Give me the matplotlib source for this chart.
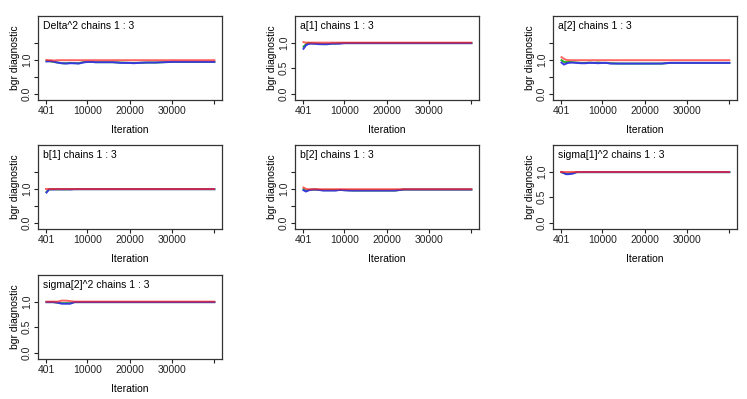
import matplotlib
matplotlib.use('Agg')
import matplotlib.pyplot as plt

plt.rcParams['font.family'] = ['Liberation Sans', 'DejaVu Sans']
plt.rcParams['font.size'] = 7.5

iters = [401, 1000, 1500, 2000, 3000, 4000, 5000, 6000, 7000, 8000, 9000, 10000,
         11000, 12000, 14000, 16000, 18000, 20000, 21000, 22000, 24000, 26000,
         28000, 30000, 35000, 40000]

xtick_vals = [401, 10000, 20000, 30000, 40000]
xtick_labels = ['401', '10000', '20000', '30000', '']

titles = ['Delta^2', 'a[1]', 'a[2]', 'b[1]', 'b[2]', 'sigma[1]^2', 'sigma[2]^2']

# green = pooled width, blue = within width, red = ratio
delta_green = [0.98, 0.97, 0.96, 0.95, 0.93, 0.91, 0.91, 0.92, 0.91, 0.91, 0.94, 0.95,
               0.95, 0.94, 0.94, 0.94, 0.93, 0.92, 0.92, 0.92, 0.93, 0.93, 0.94, 0.95, 0.95, 0.95]
delta_blue = [0.96, 0.97, 0.97, 0.96, 0.93, 0.91, 0.90, 0.91, 0.91, 0.90, 0.93, 0.95,
              0.95, 0.94, 0.94, 0.94, 0.92, 0.92, 0.91, 0.92, 0.93, 0.93, 0.94, 0.95, 0.95, 0.95]
delta_red = [1.01, 1.0, 1.0, 0.99, 1.0, 1.0, 1.0, 1.0, 1.0, 1.0, 1.0, 1.0,
             1.0, 1.0, 1.0, 1.0, 1.0, 1.0, 1.0, 1.0, 1.0, 1.0, 1.0, 1.0, 1.0, 1.0]

a1_green = [0.92, 0.97, 0.99, 0.99, 0.98, 0.98, 0.97, 0.97, 0.98, 0.98, 0.99, 0.99,
            0.99, 0.99, 0.99, 0.99, 0.99, 0.99, 0.99, 0.99, 0.99, 0.99, 0.99, 0.99, 0.99, 0.99]
a1_blue = [0.88, 0.95, 0.97, 0.98, 0.98, 0.97, 0.97, 0.97, 0.98, 0.98, 0.98, 0.99,
           0.99, 0.99, 0.99, 0.99, 0.99, 0.99, 0.99, 0.99, 0.99, 0.99, 0.99, 0.99, 0.99, 0.99]
a1_red = [1.01, 1.0, 1.0, 1.0, 1.0, 1.0, 1.0, 1.0, 1.0, 1.0, 1.0, 1.0,
          1.0, 1.0, 1.0, 1.0, 1.0, 1.0, 1.0, 1.0, 1.0, 1.0, 1.0, 1.0, 1.0, 1.0]

a2_green = [1.0, 0.95, 0.94, 0.95, 0.94, 0.93, 0.92, 0.92, 0.93, 0.92, 0.93, 0.92,
            0.92, 0.91, 0.9, 0.9, 0.9, 0.9, 0.9, 0.9, 0.9, 0.92, 0.92, 0.92, 0.92, 0.92]
a2_blue = [0.93, 0.87, 0.9, 0.92, 0.93, 0.92, 0.91, 0.91, 0.92, 0.92, 0.91, 0.92,
           0.92, 0.9, 0.9, 0.9, 0.9, 0.9, 0.9, 0.9, 0.9, 0.92, 0.92, 0.92, 0.92, 0.92]
a2_red = [1.09, 1.04, 1.01, 1.0, 1.0, 1.0, 1.0, 1.0, 1.0, 1.0, 1.0, 1.0,
          1.0, 1.0, 1.0, 1.0, 1.0, 1.0, 1.0, 1.0, 1.0, 1.0, 1.0, 1.0, 1.0, 1.0]

b1_green = [0.92, 1.0, 0.99, 1.0, 0.99, 1.0, 0.99, 1.0, 1.0, 1.0, 1.0, 1.0,
            1.0, 1.0, 1.0, 1.0, 1.0, 1.0, 1.0, 1.0, 1.0, 1.0, 1.0, 1.0, 1.0, 1.0]
b1_blue = [0.9, 0.99, 1.0, 0.99, 1.0, 0.99, 1.0, 0.99, 1.0, 1.0, 1.0, 1.0,
           1.0, 1.0, 1.0, 1.0, 1.0, 1.0, 1.0, 1.0, 1.0, 1.0, 1.0, 1.0, 1.0, 1.0]
b1_red = [1.0, 1.0, 1.0, 1.0, 1.0, 1.0, 1.0, 1.0, 1.0, 1.0, 1.0, 1.0,
          1.0, 1.0, 1.0, 1.0, 1.0, 1.0, 1.0, 1.0, 1.0, 1.0, 1.0, 1.0, 1.0, 1.0]

b2_green = [1.0, 0.95, 0.97, 0.98, 0.99, 0.98, 0.97, 0.97, 0.97, 0.97, 0.98, 0.97,
            0.97, 0.96, 0.96, 0.96, 0.96, 0.96, 0.96, 0.96, 0.99, 0.99, 0.99, 0.99, 0.99, 0.99]
b2_blue = [0.97, 0.93, 0.96, 0.98, 0.99, 0.98, 0.96, 0.96, 0.96, 0.96, 0.98, 0.97,
           0.96, 0.96, 0.96, 0.96, 0.96, 0.96, 0.96, 0.96, 0.99, 0.99, 0.99, 0.99, 0.99, 0.99]
b2_red = [1.05, 1.01, 1.0, 1.0, 1.0, 1.0, 1.0, 1.0, 1.0, 1.0, 1.0, 1.0,
          1.0, 1.0, 1.0, 1.0, 1.0, 1.0, 1.0, 1.0, 1.0, 1.0, 1.0, 1.0, 1.0, 1.0]

s1_green = [0.99, 0.97, 0.96, 0.96, 0.97, 0.99, 0.99, 0.99, 0.99, 0.99, 0.99, 0.99,
            0.99, 0.99, 0.99, 0.99, 0.99, 0.99, 0.99, 0.99, 0.99, 0.99, 0.99, 0.99, 0.99, 0.99]
s1_blue = [0.99, 0.97, 0.95, 0.95, 0.96, 0.99, 0.99, 0.99, 0.99, 0.99, 0.99, 0.99,
           0.99, 0.99, 0.99, 0.99, 0.99, 0.99, 0.99, 0.99, 0.99, 0.99, 0.99, 0.99, 0.99, 0.99]
s1_red = [1.0, 1.0, 1.0, 1.0, 1.0, 1.0, 1.0, 1.0, 1.0, 1.0, 1.0, 1.0,
          1.0, 1.0, 1.0, 1.0, 1.0, 1.0, 1.0, 1.0, 1.0, 1.0, 1.0, 1.0, 1.0, 1.0]

s2_green = [0.99, 0.99, 0.99, 0.99, 0.98, 0.97, 0.97, 0.97, 0.99, 0.99, 0.99, 0.99,
            0.99, 0.99, 0.99, 0.99, 0.99, 0.99, 0.99, 0.99, 0.99, 0.99, 0.99, 0.99, 0.99, 0.99]
s2_blue = [0.99, 0.99, 0.99, 0.99, 0.98, 0.96, 0.96, 0.96, 0.99, 0.99, 0.99, 0.99,
           0.99, 0.99, 0.99, 0.99, 0.99, 0.99, 0.99, 0.99, 0.99, 0.99, 0.99, 0.99, 0.99, 0.99]
s2_red = [1.0, 1.0, 1.0, 1.0, 1.0, 1.02, 1.02, 1.01, 1.0, 1.0, 1.0, 1.0,
          1.0, 1.0, 1.0, 1.0, 1.0, 1.0, 1.0, 1.0, 1.0, 1.0, 1.0, 1.0, 1.0, 1.0]

greens = [delta_green, a1_green, a2_green, b1_green, b2_green, s1_green, s2_green]
blues = [delta_blue, a1_blue, a2_blue, b1_blue, b2_blue, s1_blue, s2_blue]
reds = [delta_red, a1_red, a2_red, b1_red, b2_red, s1_red, s2_red]

# wide y-range panels (labels at 0.0 and 1.0) vs narrow ones (0.0, 0.5, 1.0)
wide_y = [True, False, True, True, True, False, False]

W, H = 747, 399
fig = plt.figure(figsize=(W / 100, H / 100), dpi=100)

col_left = [38, 295, 553]
row_top = [16, 145, 275]
box_w, box_h = 184, 84

for i, name in enumerate(titles):
    r, c = divmod(i, 3)
    left = col_left[c] / W
    bottom = 1 - (row_top[r] + box_h) / H
    ax = fig.add_axes([left, bottom, box_w / W, box_h / H])

    ax.plot(iters, greens[i], color='#20b020', lw=1.4)
    ax.plot(iters, blues[i], color='#3838e0', lw=1.4)
    ax.plot(iters, reds[i], color='#ff2020', lw=1.4, alpha=0.7)

    ax.set_xlim(-1600, 41800)
    ax.set_xticks(xtick_vals)
    ax.set_xticklabels(xtick_labels)
    if wide_y[i]:
        ax.set_ylim(-0.18, 2.31)
        ax.set_yticks([0.0, 0.5, 1.0, 1.5])
        ax.set_yticklabels(['0.0', '', '1.0', ''])
    else:
        ax.set_ylim(-0.12, 1.52)
        ax.set_yticks([0.0, 0.5, 1.0])
        ax.set_yticklabels(['0.0', '0.5', '1.0'])
    for lab in ax.get_yticklabels():
        lab.set_rotation(90)
        lab.set_va('center')

    ax.tick_params(length=3, width=0.8, pad=1.5, colors='#222222', labelsize=7.5)
    for sp in ax.spines.values():
        sp.set_linewidth(0.9)
        sp.set_color('#333333')

    ax.set_xlabel('Iteration', fontsize=7.5, labelpad=6)
    ax.set_ylabel('bgr diagnostic', fontsize=7.5, labelpad=1)
    ax.text(0.025, 0.88, f'{name} chains 1 : 3', transform=ax.transAxes,
            fontsize=7.5, ha='left', va='center')

fig.savefig('out.png', dpi=100)
